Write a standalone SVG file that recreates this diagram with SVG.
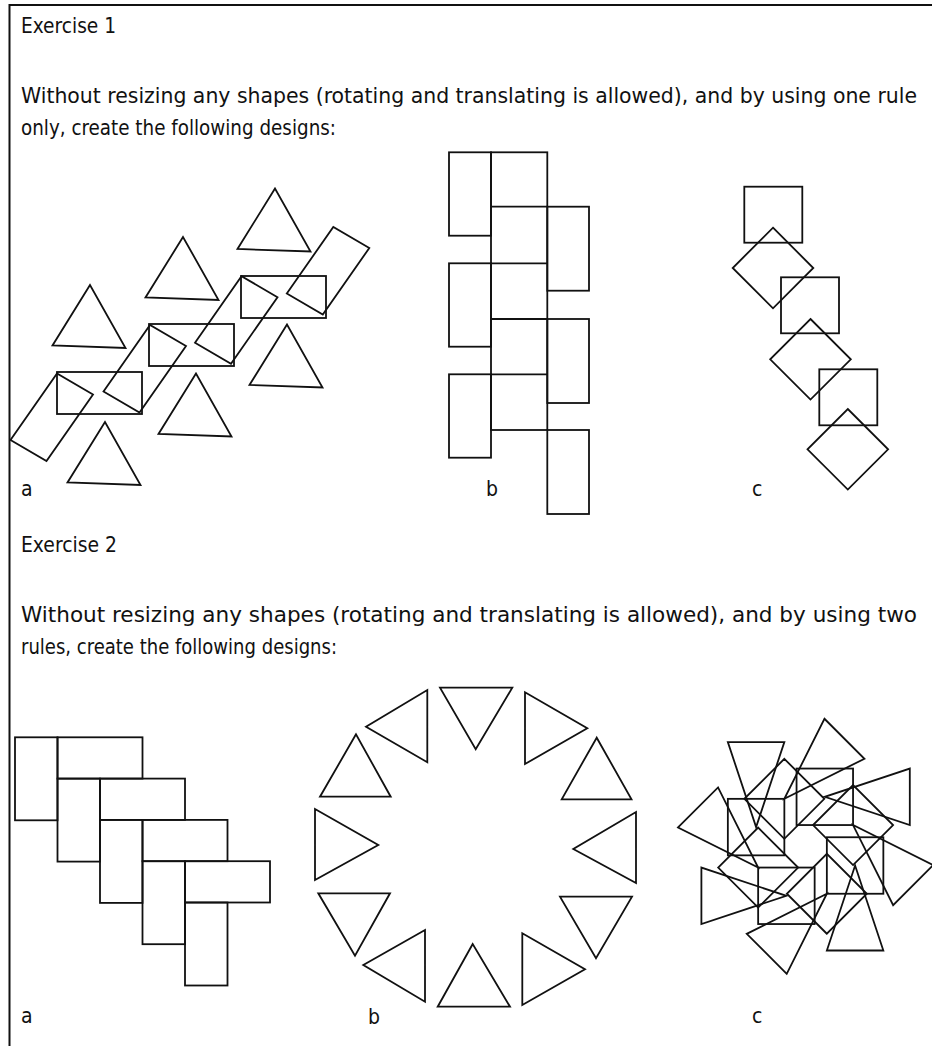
<svg xmlns="http://www.w3.org/2000/svg" xmlns:xlink="http://www.w3.org/1999/xlink" width="932" height="1046" viewBox="0 0 932 1046">
<style>
.s{fill:none;stroke:#111;stroke-width:1.8;stroke-linejoin:miter}
.b{fill:none;stroke:#111;stroke-width:2}
text{font-family:"DejaVu Sans Condensed","DejaVu Sans","Liberation Sans",sans-serif;font-size:21px;fill:#111}
</style>
<defs>
<polygon id="tri" class="s" points="0,0 -37.5,60.5 35.5,63"/>
<rect id="hr" class="s" x="0" y="0" width="85" height="42"/>
<polygon id="tr" class="s" points="-46.5,66.5 0,0 36,21 -10.5,87.5"/>
<rect id="lr" class="s" x="0" y="0" width="42" height="83.4"/>
<rect id="rr" class="s" x="0" y="0" width="41.7" height="84"/>
<rect id="sq" class="s" x="0" y="0" width="58" height="56"/>
<polygon id="dm" class="s" points="0,-40.3 40.3,0 0,40.3 -40.3,0"/>
<rect id="vr" class="s" x="0" y="0" width="42.5" height="83"/>
<rect id="wr" class="s" x="0" y="0" width="85" height="41.3"/>
<g id="quad">
<rect class="s" x="-77.75" y="-47.45" width="56.5" height="56.5"/>
<polygon class="s" points="-21.25,-87.45 18.75,-47.45 -21.25,-7.45 -61.25,-47.45"/>
<polygon class="s" points="-77.75,-104.2 -21.25,-104.2 -49.5,-19.2"/>
<polygon class="s" points="18.85,-127.55 58.85,-87.55 -21.25,-47.45"/>
</g>
</defs>

<g id="frame">
<line class="b" x1="9" y1="5" x2="932" y2="5"/>
<line class="b" x1="9.5" y1="4" x2="9.5" y2="1046"/>
</g>

<g id="texts">
<text x="21" y="33" textLength="95" lengthAdjust="spacingAndGlyphs">Exercise 1</text>
<text x="21" y="103" textLength="896" lengthAdjust="spacingAndGlyphs">Without resizing any shapes (rotating and translating is allowed), and by using one rule</text>
<text x="21" y="135" textLength="315" lengthAdjust="spacingAndGlyphs">only, create the following designs:</text>
<text x="21" y="496">a</text>
<text x="486" y="496">b</text>
<text x="752" y="496">c</text>
<text x="21" y="552" textLength="96" lengthAdjust="spacingAndGlyphs">Exercise 2</text>
<text x="21" y="622" textLength="896" lengthAdjust="spacingAndGlyphs">Without resizing any shapes (rotating and translating is allowed), and by using two</text>
<text x="21" y="654" textLength="316" lengthAdjust="spacingAndGlyphs">rules, create the following designs:</text>
<text x="21" y="1023">a</text>
<text x="368" y="1024">b</text>
<text x="752" y="1023">c</text>
</g>

<g id="ex1a">
<use xlink:href="#tri" href="#tri" x="90" y="285"/>
<use xlink:href="#tri" href="#tri" x="183" y="237"/>
<use xlink:href="#tri" href="#tri" x="275" y="188.5"/>
<use xlink:href="#tri" href="#tri" x="105" y="422"/>
<use xlink:href="#tri" href="#tri" x="196" y="373.5"/>
<use xlink:href="#tri" href="#tri" x="287" y="324.5"/>
<use xlink:href="#hr" href="#hr" x="57" y="372"/>
<use xlink:href="#hr" href="#hr" x="149" y="324"/>
<use xlink:href="#hr" href="#hr" x="241" y="276"/>
<use xlink:href="#tr" href="#tr" x="57" y="373.5"/>
<use xlink:href="#tr" href="#tr" x="150" y="325"/>
<use xlink:href="#tr" href="#tr" x="241.5" y="276.2"/>
<use xlink:href="#tr" href="#tr" x="333.3" y="227"/>
</g>

<g id="ex1b">
<use xlink:href="#lr" href="#lr" x="449" y="152.3"/>
<use xlink:href="#lr" href="#lr" x="449" y="263.3"/>
<use xlink:href="#lr" href="#lr" x="449" y="374.3"/>
<rect class="s" x="491" y="152.3" width="56.3" height="277.7"/>
<path class="s" d="M491,206.7H547.3M491,263.3H547.3M491,319H547.3M491,374.3H547.3"/>
<use xlink:href="#rr" href="#rr" x="547.3" y="206.7"/>
<use xlink:href="#rr" href="#rr" x="547.3" y="319"/>
<use xlink:href="#rr" href="#rr" x="547.3" y="430"/>
</g>

<g id="ex1c">
<use xlink:href="#sq" href="#sq" x="744.3" y="186.7"/>
<use xlink:href="#sq" href="#sq" x="781" y="277.3"/>
<use xlink:href="#sq" href="#sq" x="819.3" y="369.3"/>
<use xlink:href="#dm" href="#dm" x="773" y="268"/>
<use xlink:href="#dm" href="#dm" x="810.5" y="359.3"/>
<use xlink:href="#dm" href="#dm" x="847.8" y="449.3"/>
</g>

<g id="ex2a">
<use xlink:href="#vr" href="#vr" x="15" y="737.3"/>
<use xlink:href="#vr" href="#vr" x="57.5" y="778.6"/>
<use xlink:href="#vr" href="#vr" x="100" y="819.9"/>
<use xlink:href="#vr" href="#vr" x="142.5" y="861.2"/>
<use xlink:href="#vr" href="#vr" x="185" y="902.5"/>
<use xlink:href="#wr" href="#wr" x="57.5" y="737.3"/>
<use xlink:href="#wr" href="#wr" x="100" y="778.6"/>
<use xlink:href="#wr" href="#wr" x="142.5" y="819.9"/>
<use xlink:href="#wr" href="#wr" x="185" y="861.2"/>
</g>

<g id="ex2b">
<polygon class="s" points="440,687.7 512.3,687.7 475.7,749.3"/>
<polygon class="s" points="525,692.3 525,764 587.3,728.3"/>
<polygon class="s" points="596.7,737.7 561.7,799.3 631.5,799.3"/>
<polygon class="s" points="636,812 636,883 573.3,849"/>
<polygon class="s" points="560,896.7 632,896.7 596,958.3"/>
<polygon class="s" points="522.3,933.3 522.3,1005 585,969.3"/>
<polygon class="s" points="472.7,944 437.7,1006.7 510,1006.7"/>
<polygon class="s" points="425,930 425,1001.7 363.3,965"/>
<polygon class="s" points="318.3,893.3 390,893.3 355,955.7"/>
<polygon class="s" points="315,809 315,880 378.3,845"/>
<polygon class="s" points="356,734.3 320,796.7 390.7,796.7"/>
<polygon class="s" points="427.3,690 427.3,762.3 366,726.7"/>
</g>

<g id="ex2c">
<use xlink:href="#quad" href="#quad" transform="translate(805.6 846.3)"/>
<use xlink:href="#quad" href="#quad" transform="translate(805.6 846.3) rotate(90)"/>
<use xlink:href="#quad" href="#quad" transform="translate(805.6 846.3) rotate(180)"/>
<use xlink:href="#quad" href="#quad" transform="translate(805.6 846.3) rotate(270)"/>
</g>
</svg>
